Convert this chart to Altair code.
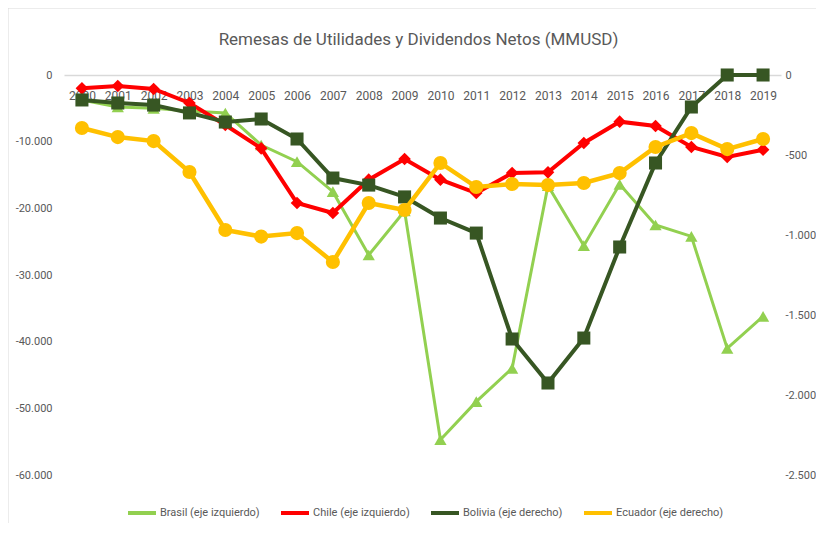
import altair as alt
import pandas as pd

years = [str(y) for y in range(2000, 2020)]

brasil = [-3750, -4800, -5000, -5400, -5700, -10500, -13000, -17500, -27000, -20400,
          -54700, -49000, -44000, -16600, -25600, -16400, -22500, -24200, -41000, -36200]
chile = [-2000, -1650, -2100, -4200, -7500, -11000, -19200, -20700, -15700, -12600,
         -15700, -17700, -14700, -14600, -10200, -7000, -7650, -10800, -12300, -11200]
bolivia = [-156, -175, -188, -237, -294, -275, -400, -644, -688, -762,
           -894, -988, -1650, -1925, -1644, -1075, -550, -200, 0, 0]
ecuador = [-331, -388, -413, -606, -969, -1010, -988, -1169, -800, -844,
           -550, -700, -681, -688, -675, -613, -450, -363, -463, -400]

series_names = ["Brasil (eje izquierdo)", "Chile (eje izquierdo)",
                "Bolivia (eje derecho)", "Ecuador (eje derecho)"]
series_colors = ["#92D050", "#FF0000", "#375623", "#FFC000"]

left_ticks = [-60000, -50000, -40000, -30000, -20000, -10000, 0]
right_ticks = [-2500, -2000, -1500, -1000, -500, 0]

title_text = "Remesas de Utilidades y Dividendos Netos (MMUSD)"

FONT = "Roboto"
GRAY = "#595959"
W, H = 717, 400


def frame(name, vals):
    return pd.DataFrame({"year": years, "value": vals, "serie": name})


label_expr = ("(datum.value < 0 ? '-' : '') + "
              "replace(format(abs(datum.value), ','), ',', '.')")

x_enc = alt.X(
    "year:O",
    scale=alt.Scale(type="point", padding=0.5),
    axis=alt.Axis(orient="bottom", offset=-H, title=None, labelAngle=0,
                  ticks=False, tickSize=0, labelPadding=15, labelFontSize=12,
                  domainColor="#D9D9D9", domainWidth=1.5),
)

color_enc = alt.Color(
    "serie:N",
    scale=alt.Scale(domain=series_names, range=series_colors),
    legend=alt.Legend(title=None, orient="none", direction="horizontal",
                      legendX=62, legendY=422, symbolType="stroke",
                      symbolSize=784, symbolStrokeWidth=4, labelOffset=2,
                      columnPadding=13, labelFontSize=11),
)

y_left = alt.Y(
    "value:Q",
    scale=alt.Scale(domain=[-60000, 0], nice=False, zero=False),
    axis=alt.Axis(orient="left", values=left_ticks, labelExpr=label_expr,
                  title=None, domain=False, ticks=False, tickSize=0,
                  grid=False, labelPadding=12, labelFontSize=11),
)
y_right = alt.Y(
    "value:Q",
    scale=alt.Scale(domain=[-2500, 0], nice=False, zero=False),
    axis=alt.Axis(orient="right", values=right_ticks, labelExpr=label_expr,
                  title=None, domain=False, ticks=False, tickSize=0,
                  grid=False, labelPadding=4, labelFontSize=11),
)


def series(name, vals, y, width, shape, size):
    d = frame(name, vals)
    base = alt.Chart(d).encode(x=x_enc, y=y, color=color_enc)
    line = base.mark_line(strokeWidth=width)
    pts = base.mark_point(filled=True, shape=shape, size=size, opacity=1)
    return [line, pts]


left = alt.layer(*(series(series_names[0], brasil, y_left, 3, "triangle-up", 150)
                   + series(series_names[1], chile, y_left, 4, "diamond", 160)))
right = alt.layer(*(series(series_names[2], bolivia, y_right, 4, "square", 170)
                    + series(series_names[3], ecuador, y_right, 4.5, "circle", 200)))

one_row = pd.DataFrame({"t": [title_text]})
title_mark = alt.Chart(one_row).mark_text(
    font=FONT, fontSize=17, color=GRAY, align="center", baseline="middle"
).encode(text="t:N", x=alt.value(W / 2 - 4), y=alt.value(-35))

border_v = alt.Chart(one_row).mark_rule(color="#D9D9D9", strokeWidth=1).encode(
    x=alt.value(-56), y=alt.value(-67), y2=alt.value(460))
border_h = alt.Chart(one_row).mark_rule(color="#D9D9D9", strokeWidth=1).encode(
    x=alt.value(-56), x2=alt.value(760), y=alt.value(-67))

chart = alt.layer(border_v, border_h, title_mark, left, right).resolve_scale(
    y="independent"
).properties(
    width=W, height=H,
    padding={"left": 56, "top": 67, "right": 35, "bottom": 48},
    autosize=alt.AutoSizeParams(type="none"),
).configure_view(stroke=None).configure_axis(
    labelFont=FONT, labelColor=GRAY
).configure_legend(
    labelFont=FONT, labelColor=GRAY
)

chart.save("out.html", embed_options={"renderer": "svg", "actions": False})
